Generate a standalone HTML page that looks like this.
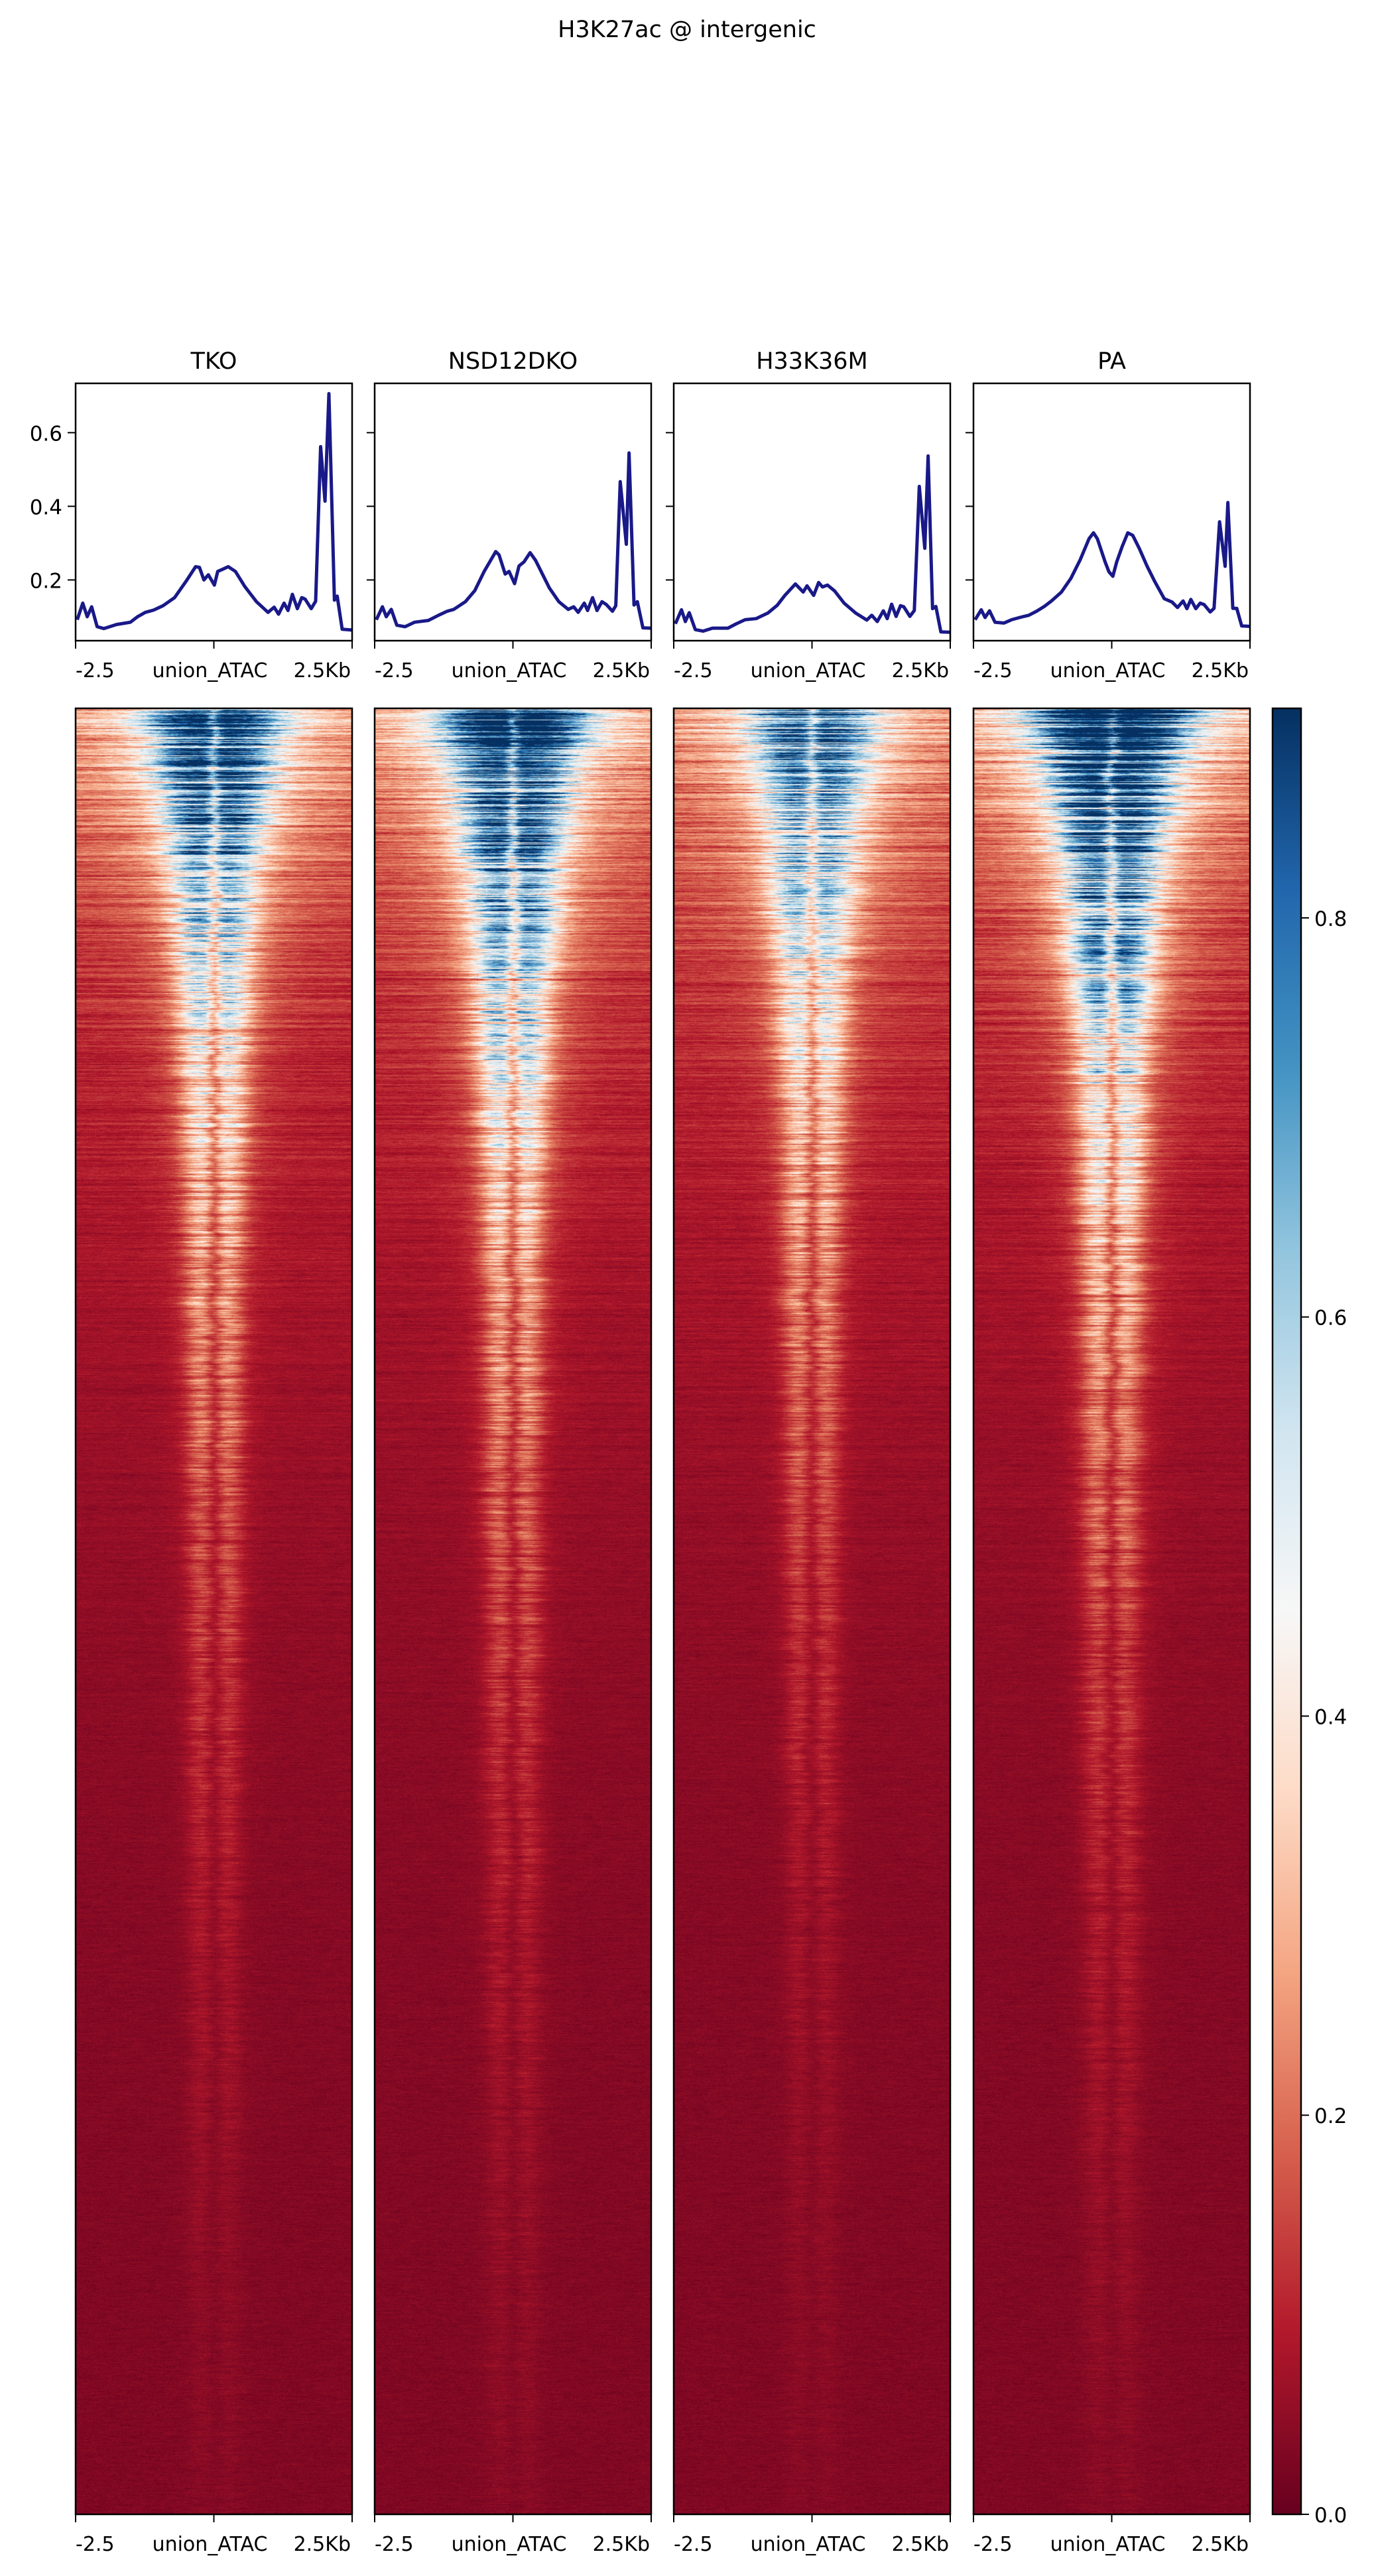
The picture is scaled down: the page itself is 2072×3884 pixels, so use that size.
<!DOCTYPE html>
<html><head><meta charset="utf-8">
<style>
html,body{margin:0;padding:0;background:#fff;}
#root{position:relative;width:2072px;height:3884px;overflow:hidden;font-family:"DejaVu Sans","Liberation Sans",sans-serif;}
canvas{position:absolute;}
svg{position:absolute;left:0;top:0;}
</style></head>
<body>
<div id="root">
<canvas id="hm0" width="417" height="2723" style="left:114px;top:1068px"></canvas>
<canvas id="hm1" width="417" height="2723" style="left:565px;top:1068px"></canvas>
<canvas id="hm2" width="417" height="2723" style="left:1016px;top:1068px"></canvas>
<canvas id="hm3" width="417" height="2723" style="left:1468px;top:1068px"></canvas>
<svg id="svg" width="2072" height="3884" xmlns="http://www.w3.org/2000/svg"></svg>
</div>
<script>
// ---- data ----
const panelNames = ["TKO","NSD12DKO","H33K36M","PA"];
const profileYTicks = [0.2,0.4,0.6];
const colorbarTicks = [0.0,0.2,0.4,0.6,0.8];
const xTickLabels = ["-2.5","union_ATAC","2.5Kb"];
const tkoPos = [-2.47,-2.37,-2.29,-2.21,-2.11,-1.99,-1.76,-1.51,-1.38,-1.24,-1.09,-0.92,-0.71,-0.50,-0.33,-0.26,-0.18,-0.10,0.01,0.07,0.16,0.26,0.39,0.56,0.77,0.98,1.09,1.17,1.27,1.34,1.42,1.51,1.59,1.65,1.76,1.84,1.93,2.01,2.08,2.18,2.23,2.32,2.49];
const tkoVal = [0.092,0.137,0.10,0.127,0.073,0.068,0.079,0.085,0.10,0.112,0.118,0.13,0.152,0.197,0.236,0.234,0.20,0.214,0.186,0.223,0.229,0.236,0.223,0.182,0.141,0.112,0.126,0.107,0.137,0.117,0.161,0.122,0.152,0.148,0.122,0.142,0.562,0.414,0.706,0.145,0.156,0.066,0.064];
const nsdPos = [-2.47,-2.36,-2.29,-2.20,-2.10,-1.95,-1.78,-1.53,-1.36,-1.19,-1.07,-0.86,-0.69,-0.52,-0.31,-0.25,-0.14,-0.07,0.03,0.11,0.20,0.31,0.41,0.66,0.83,1.00,1.10,1.18,1.29,1.35,1.44,1.52,1.61,1.69,1.80,1.86,1.94,2.05,2.10,2.19,2.25,2.35,2.49];
const nsdVal = [0.092,0.127,0.10,0.12,0.077,0.073,0.085,0.09,0.103,0.115,0.12,0.141,0.171,0.223,0.277,0.268,0.216,0.223,0.19,0.238,0.249,0.274,0.253,0.178,0.141,0.12,0.127,0.112,0.137,0.117,0.152,0.117,0.141,0.133,0.115,0.13,0.467,0.297,0.545,0.132,0.141,0.07,0.069];
const h33Pos = [-2.47,-2.36,-2.29,-2.22,-2.11,-1.97,-1.80,-1.52,-1.38,-1.21,-1.01,-0.80,-0.63,-0.49,-0.30,-0.16,-0.09,0.03,0.12,0.19,0.28,0.41,0.58,0.79,0.99,1.08,1.18,1.29,1.36,1.44,1.52,1.60,1.66,1.77,1.85,1.94,2.04,2.10,2.18,2.24,2.33,2.49];
const h33Val = [0.081,0.119,0.087,0.111,0.065,0.061,0.069,0.069,0.08,0.092,0.095,0.11,0.131,0.158,0.189,0.167,0.184,0.158,0.193,0.181,0.186,0.17,0.137,0.11,0.091,0.104,0.087,0.116,0.095,0.134,0.101,0.13,0.127,0.101,0.117,0.454,0.286,0.537,0.122,0.128,0.059,0.058];
const paPos = [-2.47,-2.36,-2.29,-2.21,-2.11,-1.95,-1.81,-1.64,-1.50,-1.36,-1.22,-1.09,-0.91,-0.74,-0.57,-0.41,-0.33,-0.26,-0.12,-0.05,0.02,0.09,0.19,0.29,0.38,0.50,0.64,0.78,0.95,1.09,1.19,1.29,1.36,1.43,1.52,1.60,1.67,1.78,1.85,1.95,2.05,2.10,2.19,2.26,2.35,2.49];
const paVal = [0.092,0.119,0.098,0.116,0.085,0.083,0.092,0.099,0.104,0.115,0.128,0.143,0.167,0.204,0.255,0.312,0.328,0.312,0.249,0.222,0.21,0.249,0.291,0.328,0.321,0.285,0.237,0.195,0.149,0.14,0.125,0.143,0.122,0.147,0.122,0.137,0.133,0.113,0.123,0.358,0.237,0.41,0.123,0.123,0.075,0.074];
// heatmap signal strength per panel (relative amplitude, width)
const hmAmp = [0.9,1.0,0.75,1.05];
const hmWidth = [1.0,1.05,0.95,1.1];

const positions=[tkoPos,nsdPos,h33Pos,paPos];
const values=[tkoVal,nsdVal,h33Val,paVal];
const NS="http://www.w3.org/2000/svg";
const svg=document.getElementById('svg');
function el(tag,attrs,parent){const e=document.createElementNS(NS,tag);for(const k in attrs)e.setAttribute(k,attrs[k]);(parent||svg).appendChild(e);return e;}
function txt(s,x,y,anchor,size,parent){const t=el('text',{x:x,y:y,'text-anchor':anchor,'font-size':size,fill:'#000','font-family':'DejaVu Sans, Liberation Sans, sans-serif'},parent);t.textContent=s;return t;}

const boxL=[114,565,1016,1468], boxW=417;
const pTop=578,pBot=966,yMin=0.035,yMax=0.734;
const hTop=1068,hBot=3791;
const ys=v=>pBot-(v-yMin)/(yMax-yMin)*(pBot-pTop);
const xs=(i,kb)=>boxL[i]+(kb+2.5)/5*boxW;

const title=txt("H3K27ac @ intergenic",1036,56,'middle',35);



for(let i=0;i<4;i++){
  const g=el('g',{});
  
  
  const t=txt(panelNames[i],boxL[i]+boxW/2,556,'middle',35,g);
  
  
  let d='';
  positions[i].forEach((p,k)=>{d+=(k?'L':'M')+xs(i,p).toFixed(1)+','+ys(values[i][k]).toFixed(1);});
  const ln=el('path',{d:d,fill:'none',stroke:'#191988','stroke-width':5,'stroke-linejoin':'round'},g);
  
  
  el('rect',{x:boxL[i],y:pTop,width:boxW,height:pBot-pTop,fill:'none',stroke:'#000','stroke-width':2.5},g);
  profileYTicks.forEach(v=>{
    el('line',{x1:boxL[i]-12,x2:boxL[i],y1:ys(v),y2:ys(v),stroke:'#000','stroke-width':2},g);
    if(i===0){const l=txt(v.toFixed(1),boxL[i]-20,ys(v)+12,'end',31,g);
      
      }
  });
  [pBot,hBot].forEach(yb=>{
    [0,0.5,1].forEach(f=>el('line',{x1:boxL[i]+f*boxW,x2:boxL[i]+f*boxW,y1:yb,y2:yb+12,stroke:'#000','stroke-width':2},g));
    const ty=yb+55;
    const a=txt(xTickLabels[0],boxL[i],ty,'start',30,g);
    
    
    const b=txt(xTickLabels[1],boxL[i]+boxW/2-6,ty,'middle',30,g);
    
    
    const c=txt(xTickLabels[2],boxL[i]+boxW-2,ty,'end',30,g);
    
    
  });
  el('rect',{x:boxL[i],y:hTop,width:boxW,height:hBot-hTop,fill:'none',stroke:'#000','stroke-width':2.5},g);
}

// colormap RdBu
const stops=[[103,0,31],[178,24,43],[214,96,77],[244,165,130],[253,219,199],[247,247,247],[209,229,240],[146,197,222],[67,147,195],[33,102,172],[5,48,97]];
const vmax=0.905;
function cmap(v){let f=Math.max(0,Math.min(1,v/vmax))*10;let k=Math.min(9,Math.floor(f));let r=f-k;const a=stops[k],b=stops[k+1];return [a[0]+(b[0]-a[0])*r,a[1]+(b[1]-a[1])*r,a[2]+(b[2]-a[2])*r];}

// colorbar
const cbX=1919,cbW=43;
const defs=el('defs',{});
const grad=el('linearGradient',{id:'cbg',x1:0,y1:1,x2:0,y2:0},defs);
stops.forEach((s,k)=>el('stop',{offset:(k/10),'stop-color':'rgb('+s.join(',')+')'},grad));
const cb=el('g',{});


el('rect',{x:cbX,y:hTop,width:cbW,height:hBot-hTop,fill:'url(#cbg)',stroke:'#000','stroke-width':2.5},cb);
colorbarTicks.forEach(v=>{const y=hBot-v/vmax*(hBot-hTop);
  el('line',{x1:cbX+cbW,x2:cbX+cbW+12,y1:y,y2:y,stroke:'#000','stroke-width':2},cb);
  const l=txt(v.toFixed(1),cbX+cbW+20,y+12,'start',31,cb);
  
  
});

// heatmaps (deterministic texture)
let seed=12345;function rnd(){seed=(seed*1664525+1013904223)>>>0;return seed/4294967296;}
for(let i=0;i<4;i++){
  const cv=document.getElementById('hm'+i),ctx=cv.getContext('2d');
  const W=cv.width,H=cv.height,img=ctx.createImageData(W,H),D=img.data;
  let rowN=1,rowS=0,shift=0;
  const colN=new Float32Array(W);
  for(let y=0;y<H;y++){
    const t=y/H;
    rowN=0.3*rowN+0.7*(0.3+rnd()*1.4);
    rowS=0.3*rowS+0.7*(rnd()-0.5);
    shift=0.8*shift+0.2*(rnd()-0.5)*0.4;
    for(let x=0;x<W;x++)colN[x]=(x?colN[x-1]*0.88:0)+(rnd()-0.5)*0.2;
    const ed=Math.exp(-t/0.18);
    const base=0.026+0.06*Math.exp(-t/0.35)+0.14*ed+rowS*0.25*ed;
    const amp=0.85*hmAmp[i]*Math.exp(-t/0.23)*rowN;
    const sig=(0.16+0.5*Math.exp(-t/0.12))*hmWidth[i];
    const wsig=sig*2.6;
    for(let x=0;x<W;x++){
      const kb=(x/W)*5-2.5-shift;
      const g1=Math.exp(-((kb+0.25)**2)/(2*sig*sig)),g2=Math.exp(-((kb-0.25)**2)/(2*sig*sig));
      const gw=Math.exp(-(kb*kb)/(2*wsig*wsig));
      const dip=1-0.4*Math.exp(-(kb*kb)/(2*0.08*0.08));
      const s=Math.max(g1,g2)*0.75+gw*0.3;
      let v=base+amp*s*dip+colN[x]*(0.05+0.6*amp*s+0.15*ed)+(rnd()-0.5)*0.03;
      const c=cmap(v),o=(y*W+x)*4;D[o]=c[0];D[o+1]=c[1];D[o+2]=c[2];D[o+3]=255;
    }
  }
  ctx.putImageData(img,0,0);
}
</script>
</body></html>
